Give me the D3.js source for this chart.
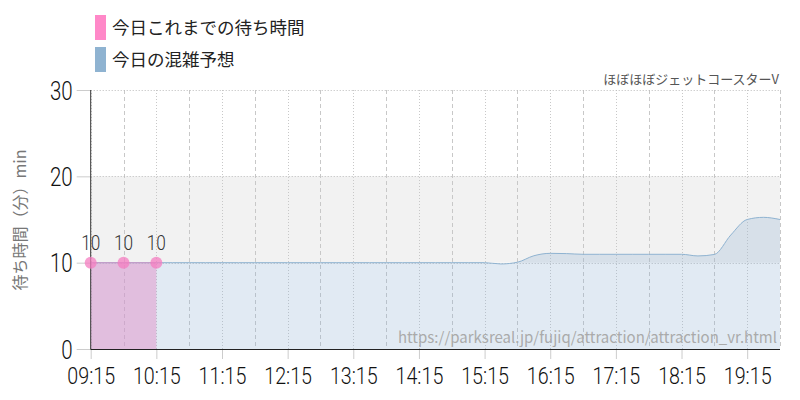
<!DOCTYPE html>
<html>
<head>
<meta charset="utf-8">
<script src="https://cdn.jsdelivr.net/npm/d3@7"></script>
<style>
body{margin:0;background:#fff;}
svg{display:block;}
.num{font-family:Roboto,sans-serif;font-weight:300;}
.jp{font-family:"Noto Sans CJK JP","Noto Sans",sans-serif;}
</style>
</head>
<body>
<svg id="chart" width="800" height="400"></svg>
<script>
// actual wait times so far
var ACTUAL_TIMES=["09:15","09:45","10:15"];
var ACTUAL_VALUES=[10,10,10];

// forecast, every 15 minutes
var FORECAST_TIMES=["09:15","09:30","09:45","10:00","10:15","10:30","10:45","11:00","11:15","11:30","11:45","12:00","12:15","12:30","12:45","13:00","13:15","13:30","13:45","14:00","14:15","14:30","14:45","15:00","15:15","15:30","15:45","16:00","16:15","16:30","16:45","17:00","17:15","17:30","17:45","18:00","18:15","18:30","18:45","19:00","19:15","19:30","19:45"];
var FORECAST_VALUES=[10,10,10,10,10,10,10,10,10,10,10,10,10,10,10,10,10,10,10,10,10,10,10,10,10,9.85,10.05,10.8,11.08,11.05,10.97,10.97,10.97,10.97,10.97,10.97,10.97,10.78,10.95,13.2,15.0,15.25,15.0];

var Y_TICKS=[0,10,20,30];
var X_LABELS=["09:15","10:15","11:15","12:15","13:15","14:15","15:15","16:15","17:15","18:15","19:15"];
var LEGEND=[{name:"今日これまでの待ち時間",color:"#ff88c8"},{name:"今日の混雑予想",color:"#8fb3d1"}];

var parseT=d3.timeParse("%H:%M");
var pLeft=90.7,pRight=780,pTop=90,pBottom=349;
var SQUEEZE=0.82;

var SVG=d3.select("#chart");
var x=d3.scaleTime().domain([parseT("09:15"),parseT("19:45")]).range([pLeft,pRight]);
var y=d3.scaleLinear().domain([0,30]).range([pBottom,pTop]);

var actual=ACTUAL_TIMES.map(function(t,i){return {t:parseT(t),v:ACTUAL_VALUES[i]};});
var forecast=FORECAST_TIMES.map(function(t,i){return {t:parseT(t),v:FORECAST_VALUES[i]};});

//plot band 10-20
SVG.append("rect")
   .attr("x",pLeft).attr("width",pRight-pLeft)
   .attr("y",y(20)).attr("height",y(10)-y(20))
   .attr("fill","#f2f2f2");

//vertical grid every 30 minutes
var halfHours=d3.range(0,22).map(function(i){return d3.timeMinute.offset(parseT("09:15"),i*30);});
SVG.append("g").selectAll("line").data(halfHours).enter().append("line")
   .attr("x1",function(d){return Math.round(x(d))+0.5;}).attr("x2",function(d){return Math.round(x(d))+0.5;})
   .attr("y1",pTop).attr("y2",pBottom)
   .attr("stroke","#c8c8c8").attr("stroke-width",1)
   .attr("stroke-dasharray",function(d){return d.getMinutes()==15?"1,2":"4,3";});

//horizontal grid
SVG.append("g").selectAll("line").data(Y_TICKS.filter(function(d){return d>0;})).enter().append("line")
   .attr("x1",pLeft).attr("x2",pRight)
   .attr("y1",function(d){return Math.round(y(d))+0.5;}).attr("y2",function(d){return Math.round(y(d))+0.5;})
   .attr("stroke","#bbb").attr("stroke-dasharray","1,2");

//areas
var area=d3.area().curve(d3.curveMonotoneX)
           .x(function(d){return x(d.t);}).y0(y(0)).y1(function(d){return y(d.v);});
var line=d3.line().curve(d3.curveMonotoneX)
           .x(function(d){return x(d.t);}).y(function(d){return y(d.v);});

SVG.append("path").datum(actual).attr("d",area)
   .attr("fill","#ff88c8").attr("fill-opacity",0.5);
SVG.append("path").datum(forecast).attr("d",area)
   .attr("fill","#8fb3d1").attr("fill-opacity",0.27);
SVG.append("path").datum(forecast).attr("d",line)
   .attr("fill","none").attr("stroke","#8fb3d1").attr("stroke-width",1);
SVG.append("path").datum(actual).attr("d",line)
   .attr("fill","none").attr("stroke","#c89ac6").attr("stroke-width",1);

//axes
var yAxis=d3.axisLeft(y).tickValues(Y_TICKS).tickSize(14).tickPadding(4);
var gy=SVG.append("g").attr("transform","translate("+pLeft+",0)").call(yAxis);
gy.select(".domain").remove();
gy.selectAll(".tick line").attr("stroke","#ccc");
gy.selectAll(".tick text").attr("class","num").attr("fill","#111").attr("font-family",null).attr("font-size",null)
  .style("font-size","25px").attr("dy","0.36em")
  .attr("x",-18/SQUEEZE).attr("transform","scale("+SQUEEZE+",1)");

var xAxis=d3.axisBottom(x).tickValues(X_LABELS.map(parseT)).tickFormat(d3.timeFormat("%H:%M")).tickSize(10).tickPadding(8);
var gx=SVG.append("g").attr("transform","translate(0,"+pBottom+")").call(xAxis);
gx.select(".domain").remove();
gx.selectAll(".tick line").attr("stroke","#ccc");
gx.selectAll(".tick text").attr("class","num").attr("fill","#111").attr("font-family",null).attr("font-size",null)
  .style("font-size","24px").attr("transform","scale("+SQUEEZE+",1)");

SVG.append("line").attr("x1",pLeft).attr("x2",pLeft).attr("y1",pTop).attr("y2",pBottom+0.5).attr("stroke","#333");
SVG.append("line").attr("x1",pLeft).attr("x2",pRight).attr("y1",pBottom+0.5).attr("y2",pBottom+0.5).attr("stroke","#222");

//markers and labels
SVG.append("g").selectAll("circle").data(actual).enter().append("circle")
   .attr("cx",function(d){return x(d.t);}).attr("cy",function(d){return y(d.v);})
   .attr("r",6).attr("fill","#f47cc0").attr("fill-opacity",0.75);
SVG.append("g").selectAll("text").data(actual).enter().append("text")
   .attr("class","num")
   .attr("transform",function(d){return "translate("+x(d.t)+","+(y(d.v)-13)+") scale("+SQUEEZE+",1)";})
   .attr("text-anchor","middle").attr("fill","#333").style("font-size","21px")
   .text(function(d){return d.v;});

//titles
SVG.append("text").attr("class","jp")
   .attr("transform","translate(26,220) rotate(-90)")
   .attr("text-anchor","middle").attr("fill","#777").style("font-size","16px")
   .text("待ち時間（分）min");
SVG.append("text").attr("class","jp")
   .attr("x",779).attr("y",84).attr("text-anchor","end")
   .attr("fill","#555").style("font-size","13px")
   .text("ほぼほぼジェットコースターV");
SVG.append("text").attr("class","jp")
   .attr("x",777).attr("y",343).attr("text-anchor","end")
   .attr("fill","#aaa").style("font-size","15px")
   .text("https://parksreal.jp/fujiq/attraction/attraction_vr.html");

//legend
var lg=SVG.append("g").selectAll("g").data(LEGEND).enter().append("g")
   .attr("transform",function(d,i){return "translate(95,"+(15+i*32)+")";});
lg.append("rect").attr("width",11).attr("height",25).attr("fill",function(d){return d.color;});
lg.append("text").attr("class","jp").attr("x",17).attr("y",19)
  .attr("fill","#222").style("font-size","17.5px").text(function(d){return d.name;});
</script>
</body>
</html>
